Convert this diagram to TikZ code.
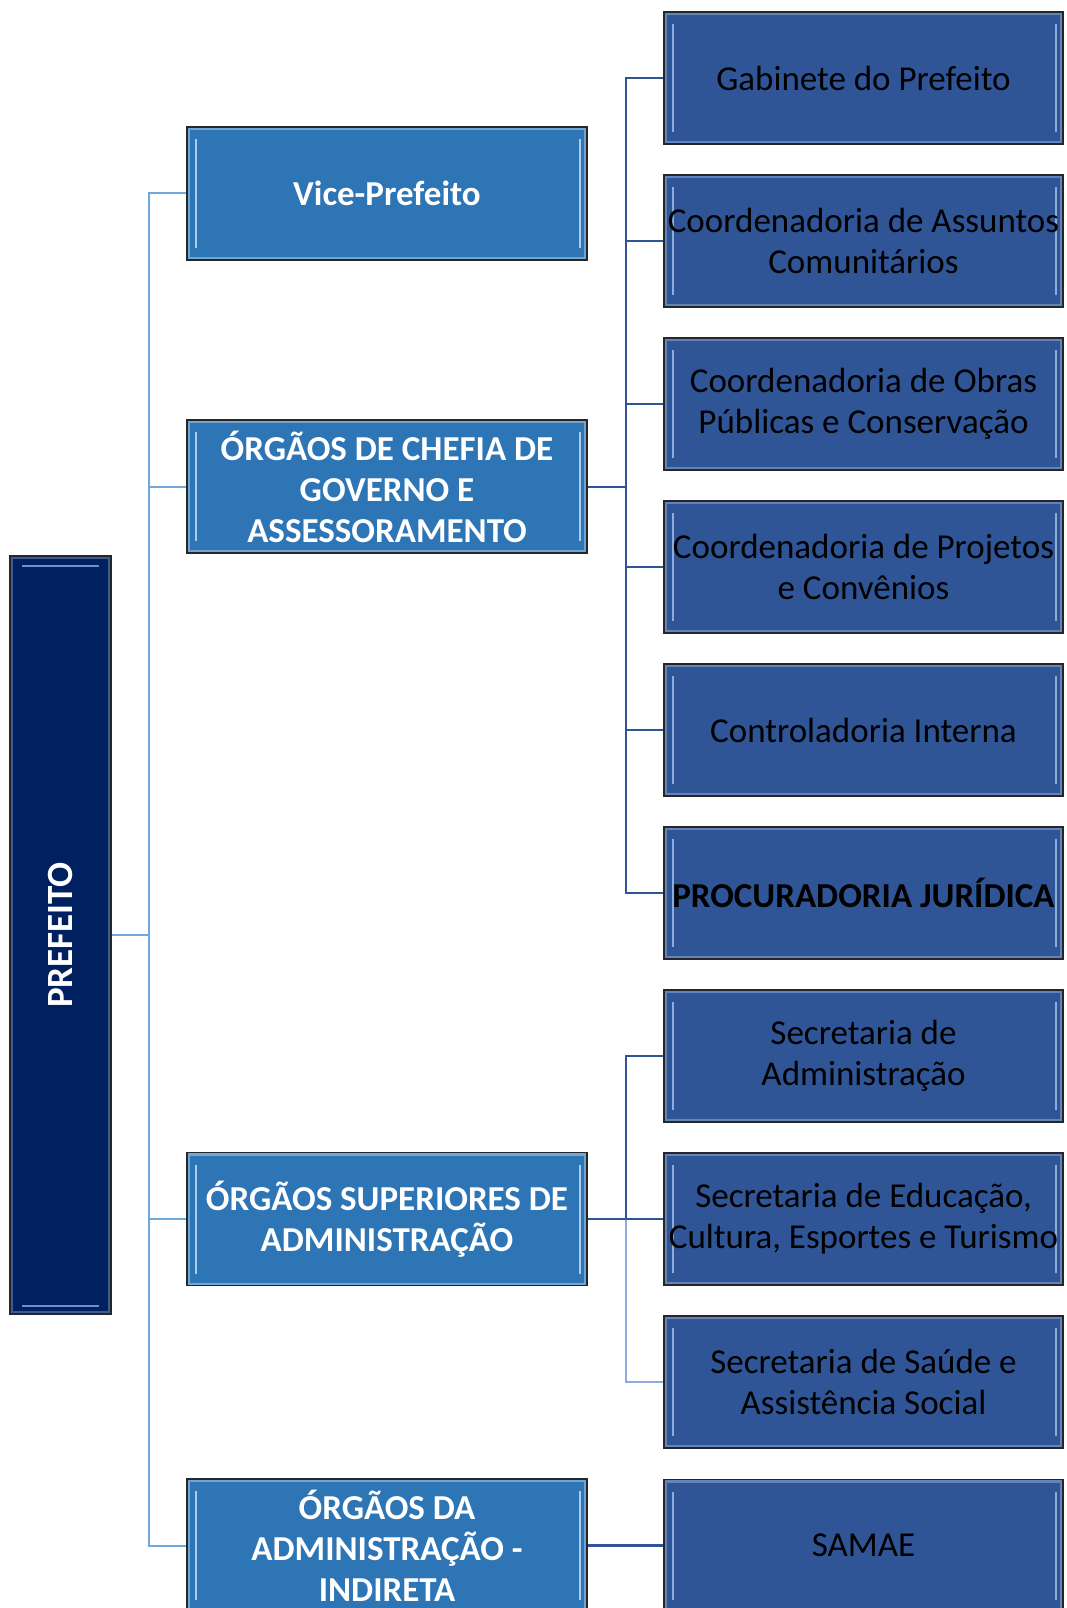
\documentclass[tikz,border=0pt]{standalone}
\usepackage{fontspec}
\setmainfont{Carlito}
\definecolor{cPref}{HTML}{002060}
\definecolor{cLbox}{HTML}{2E75B6}
\definecolor{cRbox}{HTML}{2F5597}
\definecolor{cLhl}{HTML}{A9CDEE}
\definecolor{cRhl}{HTML}{8FAADC}
\definecolor{cPhl}{HTML}{6F8FC8}
\definecolor{cLline}{HTML}{6FA8DC}
\definecolor{cRline}{HTML}{2F5597}
\definecolor{cRline2}{HTML}{8FAADC}
\tikzset{
  bevv/.style={path picture={
    \draw[line width=6pt,#1,opacity=.55] (path picture bounding box.north west) rectangle (path picture bounding box.south east);
    \draw[line width=2.2pt,#1] ([shift={(9pt,-12pt)}]path picture bounding box.north west) -- ([shift={(9pt,12pt)}]path picture bounding box.south west);
    \draw[line width=2.2pt,#1] ([shift={(-7pt,-12pt)}]path picture bounding box.north east) -- ([shift={(-7pt,12pt)}]path picture bounding box.south east);
  }},
  bevh/.style={path picture={
    \draw[line width=6pt,#1,opacity=.55] (path picture bounding box.north west) rectangle (path picture bounding box.south east);
    \draw[line width=2.5pt,#1] ([shift={(12pt,-10pt)}]path picture bounding box.north west) -- ([shift={(-12pt,-10pt)}]path picture bounding box.north east);
    \draw[line width=2.5pt,#1] ([shift={(12pt,8pt)}]path picture bounding box.south west) -- ([shift={(-12pt,8pt)}]path picture bounding box.south east);
  }},
  prefst/.style={draw=black!85, line width=1.2pt, fill=cPref, minimum width=101pt, minimum height=758pt,
    inner sep=0pt, text=white, font=\bfseries\fontsize{37}{44}\selectfont, bevh=cPhl},
  lboxst/.style={draw=black!85, line width=1.2pt, fill=cLbox, minimum width=400pt, minimum height=133pt,
    inner sep=0pt, align=center, text=white, font=\bfseries\fontsize{35}{41}\selectfont, bevv=cLhl},
  rboxst/.style={draw=black!85, line width=1.2pt, fill=cRbox, minimum width=399pt, minimum height=132pt,
    inner sep=0pt, align=center, text=black, font=\fontsize{35}{41}\selectfont, bevv=cRhl},
  lcon/.style={draw=cLline, line width=2pt},
  rcon/.style={draw=cRline, line width=2pt},
  rcontwo/.style={draw=cRline2, line width=1.6pt},
}
\begin{document}
\begin{tikzpicture}[x=1pt,y=-1pt]
\clip (0,0) rectangle (1066,1608);
\fill[white] (0,0) rectangle (1066,1608);

% nodes
\node[prefst] (P) at (60.5,935) {\rotatebox{90}{PREFEITO}};

\node[lboxst] (V) at (387,193.5) {Vice-Prefeito};
\node[lboxst] (C) at (387,486.5) {ÓRGÃOS DE CHEFIA DE\\GOVERNO E\\ASSESSORAMENTO};
\node[lboxst] (S) at (387,1219) {ÓRGÃOS SUPERIORES DE\\ADMINISTRAÇÃO};
\node[lboxst] (I) at (387,1545.5) {ÓRGÃOS DA\\ADMINISTRAÇÃO -\\INDIRETA};

\node[rboxst] (R1) at (863.5,78) {Gabinete do Prefeito};
\node[rboxst] (R2) at (863.5,241) {Coordenadoria de Assuntos\\Comunitários};
\node[rboxst] (R3) at (863.5,404) {Coordenadoria de Obras\\Públicas e Conservação};
\node[rboxst] (R4) at (863.5,567) {Coordenadoria de Projetos\\e Convênios};
\node[rboxst] (R5) at (863.5,730) {Controladoria Interna};
\node[rboxst] (R6) at (863.5,893) {\textbf{PROCURADORIA JURÍDICA}};
\node[rboxst] (R7) at (863.5,1056) {Secretaria de\\Administração};
\node[rboxst] (R8) at (863.5,1219) {Secretaria de Educação,\\Cultura, Esportes e Turismo};
\node[rboxst] (R9) at (863.5,1382) {Secretaria de Saúde e\\Assistência Social};
\node[rboxst] (R10) at (863.5,1545.5) {SAMAE};

% buses
\coordinate (bL) at (149,935);
\coordinate (bR) at (626,0);

% left connectors
\draw[lcon] (P.east) -- (bL);
\draw[lcon] (V.west) -- (V.west -| bL) -- (I.west -| bL) -- (I.west);
\draw[lcon] (C.west) -- (C.west -| bL);
\draw[lcon] (S.west) -- (S.west -| bL);

% right connectors, first group
\draw[rcon] (R1.west) -- (R1.west -| bR) -- (R6.west -| bR) -- (R6.west);
\draw[rcon] (R2.west) -- (R2.west -| bR);
\draw[rcon] (R3.west) -- (R3.west -| bR);
\draw[rcon] (R4.west) -- (R4.west -| bR);
\draw[rcon] (R5.west) -- (R5.west -| bR);
\draw[rcon] (C.east) -- (C.east -| bR);

% right connectors, second group
\draw[rcon] (R7.west) -- (R7.west -| bR) -- (R8.west -| bR);
\draw[rcontwo] (R8.west -| bR) -- (R9.west -| bR) -- (R9.west);
\draw[rcon] (S.east) -- (R8.west);

% indirect
\draw[rcon, line width=2.4pt] (I.east) -- (R10.west);
\end{tikzpicture}
\end{document}
